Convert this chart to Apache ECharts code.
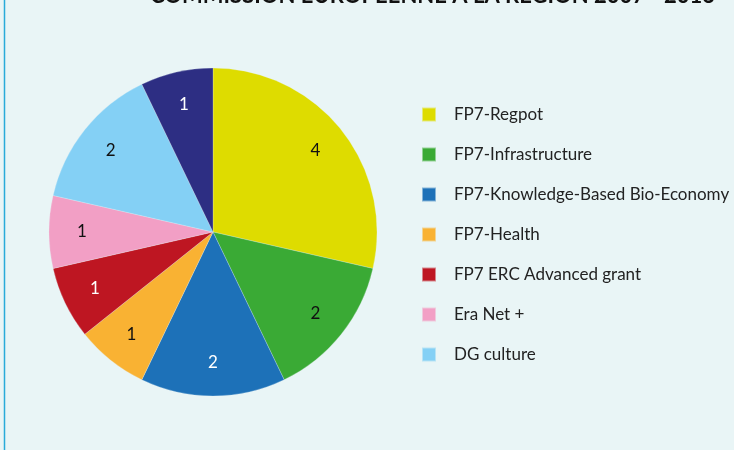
<!DOCTYPE html>
<html>
<head>
<meta charset="utf-8">
<script src="https://cdn.jsdelivr.net/npm/echarts@6/dist/echarts.min.js"></script>
<style>html,body{margin:0;padding:0;background:#e9f5f6;}#c{width:734px;height:450px;}</style>
</head>
<body>
<div id="c"></div>
<script>
var titleText = 'COMMISSION EUROPÉENNE À LA RÉGION 2007 - 2013';
var categories = ['FP7-Regpot', 'FP7-Infrastructure', 'FP7-Knowledge-Based Bio-Economy', 'FP7-Health', 'FP7 ERC Advanced grant', 'Era Net +', 'DG culture', 'Autres'];
var values = [4, 2, 2, 1, 1, 1, 2, 1];
var colors = ['#dedc00', '#3aaa35', '#1d71b8', '#f9b233', '#be1622', '#f29fc5', '#84d0f5', '#2d2e83'];
var labelColors = ['#111', '#111', '#fff', '#111', '#fff', '#111', '#111', '#fff'];
var legendNames = categories.slice(0, 7);

var FONT = 'Lato';
var data = categories.map(function (n, i) {
  return { name: n, value: values[i], itemStyle: { color: colors[i] } };
});
var labelData = categories.map(function (n, i) {
  return { name: n, value: values[i], label: { color: labelColors[i] } };
});
var chart = echarts.init(document.getElementById('c'), null, { renderer: 'canvas' });
chart.setOption({
  backgroundColor: '#e9f5f6',
  animation: false,
  title: {
    text: titleText, left: 145, top: -20,
    textStyle: { fontFamily: FONT, fontSize: 22, fontWeight: 'bold', color: '#111' }
  },
  graphic: [{
    type: 'line', shape: { x1: 4.5, y1: 0, x2: 4.5, y2: 450 },
    style: { stroke: '#29abd9', lineWidth: 1.5 }
  }],
  legend: {
    orient: 'vertical', left: 421, top: 106, padding: 0, itemWidth: 14, itemHeight: 14, itemGap: 23,
    icon: 'rect', data: legendNames,
    textStyle: { fontFamily: FONT, fontSize: 17, lineHeight: 14, color: '#222', padding: [2, 0, 0, 13] }
  },
  series: [{
    type: 'pie', center: [213, 232], radius: [0, 164], startAngle: 90, clockwise: true,
    label: { show: false }, labelLine: { show: false }, silent: true,
    itemStyle: { borderColor: 'rgba(233,245,246,0.5)', borderWidth: 0.5 },
    data: data
  }, {
    type: 'pie', center: [213, 232], radius: [92, 164], startAngle: 90, clockwise: true,
    silent: true, legendHoverLink: false,
    itemStyle: { color: 'rgba(0,0,0,0)' },
    label: { show: true, position: 'inside', formatter: '{c}', fontFamily: FONT, fontSize: 17 },
    labelLine: { show: false },
    data: labelData
  }]
});
</script>
</body>
</html>
